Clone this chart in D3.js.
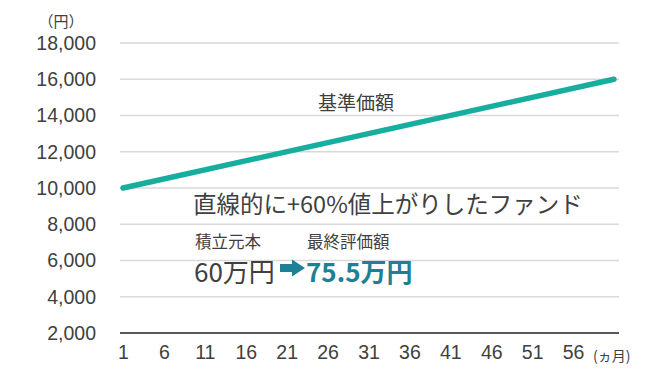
<!DOCTYPE html>
<html>
<head>
<meta charset="utf-8">
<script src="https://cdn.jsdelivr.net/npm/d3@7"></script>
<style>
  body { margin: 0; background: #fff; }
  svg text { fill: #404040; }
</style>
</head>
<body>
<svg id="svg"></svg>
<script>
// データ
var months = [1, 61];
var navValues = [10000, 16000];
var yTicks = [2000, 4000, 6000, 8000, 10000, 12000, 14000, 16000, 18000];
var xTicks = [1, 6, 11, 16, 21, 26, 31, 36, 41, 46, 51, 56];
var lineLabel = "基準価額";
var headline = "直線的に+60%値上がりしたファンド";
var principalLabel = "積立元本";
var principalValue = "60万円";
var finalLabel = "最終評価額";
var finalValue = "75.5万円";

var width = 660, height = 388;
var jp = "'Noto Sans CJK JP', 'Noto Sans', sans-serif";
var num = "'Liberation Sans', Arial, sans-serif";
var teal = "#17ae9f";
var blue = "#1d8096";

var svg = d3.select("#svg").attr("width", width).attr("height", height);

var xScale = d3.scaleLinear().domain([1, 61]).range([123, 614]);
var yScale = d3.scaleLinear().domain([2000, 18000]).range([333, 43]);
var gridX0 = 120, gridX1 = 619;

// グリッド線
svg.append("g").selectAll("line")
    .data(yTicks)
    .join("line")
    .attr("x1", gridX0)
    .attr("x2", gridX1)
    .attr("y1", d => yScale(d))
    .attr("y2", d => yScale(d))
    .attr("stroke", d => d == 2000 ? "#595959" : "#d9d9d9")
    .attr("stroke-width", d => d == 2000 ? 2 : 1.3);

// y軸ラベル
var yAxis = svg.append("g")
    .attr("transform", "translate(96,0)")
    .call(d3.axisLeft(yScale).tickValues(yTicks).tickSize(0).tickPadding(0).tickFormat(d3.format(",")));
yAxis.select(".domain").remove();
yAxis.selectAll("text")
    .attr("font-family", num)
    .attr("font-size", 19.5)
    .attr("fill", "#404040");

// x軸ラベル
var xAxis = svg.append("g")
    .attr("transform", "translate(0,345)")
    .call(d3.axisBottom(xScale).tickValues(xTicks).tickSize(0).tickPadding(0).tickFormat(d => d));
xAxis.select(".domain").remove();
xAxis.selectAll("text")
    .attr("font-family", num)
    .attr("font-size", 19.5)
    .attr("fill", "#404040");

svg.append("text")
    .attr("x", 593).attr("y", 361)
    .attr("font-family", jp).attr("font-size", 14)
    .text("(ヵ月)");

svg.append("text")
    .attr("x", 61).attr("y", 27)
    .attr("text-anchor", "middle")
    .attr("font-family", jp).attr("font-size", 15)
    .text("（円）");

// 基準価額ライン
var series = months.map((m, i) => ({ m: m, v: navValues[i] }));
svg.append("path")
    .datum(series)
    .attr("fill", "none")
    .attr("stroke", teal)
    .attr("stroke-width", 5.5)
    .attr("stroke-linecap", "round")
    .attr("d", d3.line().x(d => xScale(d.m)).y(d => yScale(d.v)));

svg.append("text")
    .attr("x", 318).attr("y", 110)
    .attr("font-family", jp).attr("font-size", 19)
    .text(lineLabel);

// 注記
svg.append("text")
    .attr("x", 193).attr("y", 213)
    .attr("font-family", jp).attr("font-size", 23.5)
    .text(headline);

svg.append("text")
    .attr("x", 195).attr("y", 248)
    .attr("font-family", jp).attr("font-size", 16.5)
    .text(principalLabel);

svg.append("text")
    .attr("x", 307).attr("y", 248)
    .attr("font-family", jp).attr("font-size", 16.5)
    .text(finalLabel);

svg.append("text")
    .attr("x", 194).attr("y", 282)
    .attr("font-family", jp).attr("font-size", 26)
    .text(principalValue);

// 矢印
svg.append("path")
    .attr("d", "M280,264 H292 V259.5 L305,268 L292,276.5 V272 H280 Z")
    .attr("fill", blue);

svg.append("text")
    .attr("x", 306).attr("y", 282)
    .attr("font-family", jp).attr("font-size", 26)
    .attr("font-weight", "bold")
    .style("fill", blue)
    .text(finalValue);
</script>
</body>
</html>
